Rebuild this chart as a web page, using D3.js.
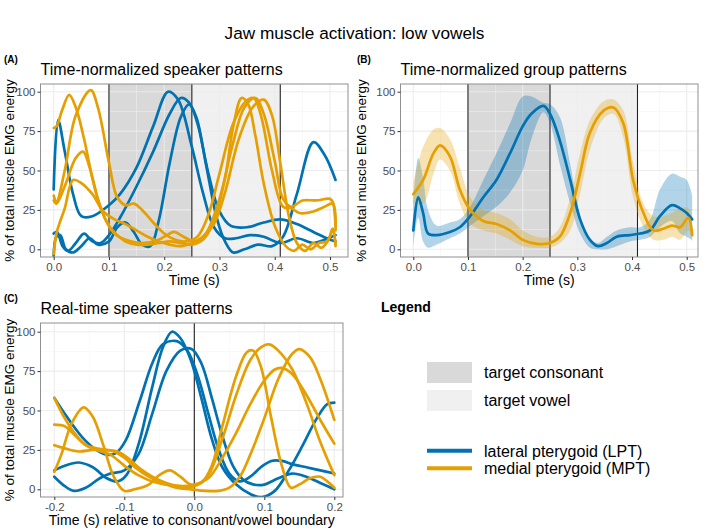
<!DOCTYPE html>
<html><head><meta charset="utf-8">
<script src="https://cdn.jsdelivr.net/npm/d3@7"></script>
<style>body{margin:0;background:#fff}svg{display:block;font-family:"Liberation Sans",Arial,Helvetica,sans-serif}</style>
</head><body><svg id="chart" width="709" height="530"></svg>
<script>
// ---------- DATA ----------
const yTicks = [0, 25, 50, 75, 100];
const yMinor = [12.5, 37.5, 62.5, 87.5];
const xTicksNorm = [0, 0.1, 0.2, 0.3, 0.4, 0.5];
const xMinorNorm = [0.05, 0.15, 0.25, 0.35, 0.45];
const xTicksReal = [-0.2, -0.1, 0, 0.1, 0.2];
const xMinorReal = [-0.15, -0.05, 0.05, 0.15];
const consonantSpan = [0.1, 0.25];
const vowelSpan = [0.25, 0.41];
const boundariesNorm = [0.1, 0.25, 0.41];
const boundariesReal = [0];

// Panel A: time-normalized speaker patterns [time, %]
const speakerLPT_A1 = [[0,38],[0.008,82],[0.02,62],[0.035,35],[0.05,21],[0.07,21],[0.1,28],[0.12,35],[0.15,52],[0.18,78],[0.207,100],[0.225,95],[0.25,65],[0.27,36],[0.29,14],[0.31,7],[0.33,7],[0.355,9],[0.38,8],[0.41,4],[0.44,7],[0.47,4],[0.49,6],[0.51,9]];
const speakerLPT_A2 = [[0,10],[0.006,11],[0.016,2],[0.026,-1],[0.04,4],[0.055,10],[0.07,5],[0.085,4],[0.1,9],[0.12,20],[0.15,40],[0.18,62],[0.21,86],[0.23,96],[0.245,93],[0.26,80],[0.28,48],[0.3,24],[0.32,15],[0.35,14],[0.38,17],[0.41,19],[0.44,16],[0.47,11],[0.5,6],[0.51,5]];
const speakerLPT_A3 = [[0,-4],[0.005,8],[0.012,9],[0.022,0],[0.035,-2],[0.05,2],[0.065,7],[0.08,3],[0.1,5],[0.115,14],[0.13,17],[0.145,11],[0.16,3],[0.175,2],[0.19,18],[0.21,55],[0.23,84],[0.245,92],[0.258,84],[0.275,55],[0.295,20],[0.31,5],[0.325,-2],[0.345,0],[0.37,3],[0.395,2],[0.415,8],[0.44,35],[0.47,68],[0.49,60],[0.51,44]];
const speakerMPT_A1 = [[0,77],[0.005,78],[0.015,88],[0.028,98],[0.04,90],[0.055,70],[0.07,45],[0.085,26],[0.1,15],[0.115,9],[0.13,5],[0.15,3],[0.17,3],[0.19,4],[0.21,5],[0.23,4],[0.25,3],[0.27,6],[0.29,18],[0.31,45],[0.325,78],[0.34,96],[0.352,92],[0.365,72],[0.38,42],[0.4,15],[0.42,2],[0.435,-1],[0.45,3],[0.465,0],[0.48,4],[0.495,5],[0.505,13],[0.51,2]];
const speakerMPT_A2 = [[0,34],[0.005,30],[0.02,50],[0.04,85],[0.067,101],[0.08,90],[0.1,55],[0.115,33],[0.13,28],[0.145,29],[0.16,25],[0.18,17],[0.2,10],[0.22,6],[0.24,5],[0.26,8],[0.28,22],[0.3,48],[0.325,80],[0.348,94],[0.362,96],[0.375,85],[0.395,50],[0.415,27],[0.43,26],[0.445,23],[0.47,24],[0.49,27],[0.505,29],[0.51,12]];
const speakerMPT_A3 = [[0,31],[0.005,29],[0.02,40],[0.04,58],[0.053,62],[0.065,52],[0.08,32],[0.095,18],[0.11,10],[0.13,6],[0.16,4],[0.19,6],[0.205,9],[0.218,11],[0.235,8],[0.255,5],[0.275,10],[0.3,32],[0.325,68],[0.345,90],[0.365,96],[0.38,86],[0.4,56],[0.415,32],[0.43,27],[0.45,31],[0.475,31],[0.5,32],[0.505,30],[0.51,15]];
const speakerMPT_A4 = [[0,-3],[0.005,10],[0.01,16],[0.02,26],[0.035,44],[0.05,42],[0.07,35],[0.09,24],[0.11,19],[0.13,16],[0.15,12],[0.17,8],[0.19,5],[0.21,3],[0.23,2],[0.25,4],[0.27,8],[0.29,16],[0.31,36],[0.335,70],[0.36,90],[0.38,95],[0.395,85],[0.41,55],[0.425,22],[0.44,4],[0.455,-1],[0.47,4],[0.485,1],[0.5,8],[0.505,13],[0.51,3]];

// Panel B: group patterns [time, mean, lower, upper]
const groupLPT = [[0,12,2,30],[0.009,33,20,58],[0.018,23,5,45],[0.027,10,1,25],[0.043,9,3,15],[0.067,11,7,17],[0.085,14,10,19],[0.104,21,15,27],[0.128,33,21,44],[0.152,44,27,61],[0.177,61,36,80],[0.2,78,50,97],[0.216,86,70,97],[0.238,91,87,93],[0.25,86,80,92],[0.268,69,54,84],[0.287,44,29,54],[0.305,19,10,22],[0.323,6,1,7],[0.338,2,0,4],[0.354,4,0,8],[0.372,8,2,12],[0.396,9,5,14],[0.415,10,6,14],[0.433,12,8,19],[0.451,21,14,38],[0.473,28,18,48],[0.488,26,10,46],[0.5,23,8,44],[0.51,19,6,34]];
const groupMPT = [[0,35,29,42],[0.018,44,29,65],[0.037,61,48,76],[0.049,66,57,77],[0.067,59,50,70],[0.085,38,29,52],[0.104,25,16,33],[0.128,18,12,25],[0.152,16,10,23],[0.177,12,6,19],[0.2,6,2,12],[0.226,3.5,1,8],[0.25,4,1,8],[0.268,8,4,14],[0.287,23,12,33],[0.305,48,35,61],[0.323,74,63,82],[0.348,88,83,94],[0.366,90,86,95],[0.384,80,71,88],[0.402,44,33,55],[0.421,23,14,29],[0.439,12,6,21],[0.457,13,6,21],[0.473,15,8,23],[0.488,14,6,26],[0.503,20,12,26],[0.51,9,4,14]];

// Panel C: real-time speaker patterns [time rel. to boundary, %]
const realLPT_1 = [[-0.2,58],[-0.182,46],[-0.16,33],[-0.14,25],[-0.125,22],[-0.112,23],[-0.098,31],[-0.078,56],[-0.06,80],[-0.045,92],[-0.025,94],[-0.01,88],[0.005,72],[0.02,48],[0.035,25],[0.05,10],[0.065,5],[0.08,8],[0.095,14],[0.11,18],[0.125,18],[0.14,16],[0.16,14],[0.18,12],[0.2,10]];
const realLPT_2 = [[-0.2,12],[-0.185,15],[-0.165,17],[-0.145,14],[-0.125,7],[-0.11,5],[-0.097,9],[-0.08,28],[-0.06,65],[-0.045,90],[-0.032,100],[-0.02,96],[-0.005,82],[0.01,58],[0.025,32],[0.04,14],[0.06,3],[0.08,-3],[0.096,-5],[0.115,-1],[0.135,12],[0.155,28],[0.175,45],[0.19,54],[0.2,55]];
const realLPT_3 = [[-0.2,8],[-0.185,2],[-0.172,-1],[-0.155,1],[-0.135,7],[-0.12,10],[-0.1,12],[-0.08,22],[-0.06,48],[-0.04,75],[-0.02,88],[-0.004,89],[0.01,80],[0.025,58],[0.04,34],[0.055,15],[0.07,6],[0.085,3],[0.1,3],[0.12,7],[0.14,10],[0.16,8],[0.18,4],[0.2,0]];
const realMPT_1 = [[-0.2,11],[-0.19,22],[-0.175,42],[-0.158,52],[-0.145,46],[-0.13,28],[-0.115,8],[-0.1,-1],[-0.085,0],[-0.065,3],[-0.05,9],[-0.035,12],[-0.02,8],[-0.005,3],[0.01,4],[0.025,15],[0.04,40],[0.06,72],[0.075,87],[0.084,88],[0.095,78],[0.11,45],[0.125,15],[0.138,1],[0.15,3],[0.165,7],[0.18,8],[0.19,5],[0.2,1]];
const realMPT_2 = [[-0.2,58],[-0.185,45],[-0.17,35],[-0.155,28],[-0.14,25],[-0.12,22],[-0.1,15],[-0.08,9],[-0.06,5],[-0.04,3],[-0.02,2],[0,2],[0.02,9],[0.04,32],[0.06,60],[0.08,82],[0.095,90],[0.107,92],[0.12,88],[0.14,76],[0.16,55],[0.18,30],[0.2,9]];
const realMPT_3 = [[-0.2,41],[-0.185,40],[-0.17,34],[-0.155,28],[-0.14,26],[-0.125,25],[-0.11,24],[-0.095,20],[-0.08,14],[-0.06,8],[-0.04,4],[-0.02,2],[0,3],[0.02,7],[0.04,20],[0.06,36],[0.08,54],[0.1,69],[0.115,76],[0.125,77],[0.14,73],[0.16,60],[0.18,44],[0.2,29]];
const realMPT_4 = [[-0.2,28],[-0.185,26],[-0.165,24],[-0.145,25],[-0.13,25],[-0.115,24],[-0.1,20],[-0.085,14],[-0.065,8],[-0.045,4],[-0.025,1],[-0.005,0],[0.015,-1],[0.035,-1],[0.05,1],[0.065,8],[0.08,22],[0.1,45],[0.12,70],[0.14,86],[0.15,89],[0.165,84],[0.18,70],[0.2,44]];

const muscleLabels = ["lateral pterygoid (LPT)", "medial pterygoid (MPT)"];
const phaseLabels = ["target consonant", "target vowel"];

// ---------- STYLE ----------
const COL_LPT = "#0072B2", COL_MPT = "#E69F00";
const FILL_CONS = "#d9d9d9", FILL_VOW = "#f0f0f0";
const svg = d3.select("#chart");
const font = '"Liberation Sans",Arial,Helvetica,sans-serif';

svg.append("text").attr("x", 354.5).attr("y", 39).attr("text-anchor", "middle")
  .attr("font-size", 17.2).attr("fill", "#000").text("Jaw muscle activation: low vowels");

let clipN = 0;
function panel(cfg) {
  const {frame, x, y, xTicks, xMinor, fmt} = cfg;
  const g = svg.append("g");
  const id = "clip" + (clipN++);
  svg.append("clipPath").attr("id", id).append("rect")
    .attr("x", frame.l).attr("y", frame.t).attr("width", frame.r - frame.l).attr("height", frame.b - frame.t);
  const inner = g.append("g").attr("clip-path", `url(#${id})`);
  inner.append("rect").attr("x", frame.l).attr("y", frame.t).attr("width", frame.r - frame.l).attr("height", frame.b - frame.t).attr("fill", "#fff");
  (cfg.spans || []).forEach(s => {
    inner.append("rect").attr("x", x(s.span[0])).attr("width", x(s.span[1]) - x(s.span[0]))
      .attr("y", frame.t).attr("height", frame.b - frame.t).attr("fill", s.fill);
  });
  // grid
  inner.selectAll(null).data(yMinor).join("line").attr("x1", frame.l).attr("x2", frame.r)
    .attr("y1", d => y(d)).attr("y2", d => y(d)).attr("stroke", "#f4f4f4").attr("stroke-width", 0.6).attr("opacity", 0.9);
  inner.selectAll(null).data(xMinor).join("line").attr("y1", frame.t).attr("y2", frame.b)
    .attr("x1", d => x(d)).attr("x2", d => x(d)).attr("stroke", "#f4f4f4").attr("stroke-width", 0.6).attr("opacity", 0.9);
  inner.selectAll(null).data(yTicks).join("line").attr("x1", frame.l).attr("x2", frame.r)
    .attr("y1", d => y(d)).attr("y2", d => y(d)).attr("stroke", "#ebebeb").attr("stroke-width", 1.1).attr("opacity", 0.9);
  inner.selectAll(null).data(xTicks).join("line").attr("y1", frame.t).attr("y2", frame.b)
    .attr("x1", d => x(d)).attr("x2", d => x(d)).attr("stroke", "#ebebeb").attr("stroke-width", 1.1).attr("opacity", 0.9);
  // boundaries
  inner.selectAll(null).data(cfg.vlines).join("line").attr("y1", frame.t).attr("y2", frame.b)
    .attr("x1", d => x(d)).attr("x2", d => x(d)).attr("stroke", "#222").attr("stroke-width", 1.1);
  // ribbons
  (cfg.ribbons || []).forEach(r => {
    const area = d3.area().x(d => x(d[0])).y0(d => y(d[2])).y1(d => y(d[3])).curve(d3.curveCatmullRom.alpha(0.5));
    inner.append("path").attr("d", area(r.data)).attr("fill", r.color).attr("opacity", 0.3);
  });
  const line = d3.line().x(d => x(d[0])).y(d => y(d[1])).curve(d3.curveCatmullRom.alpha(0.5));
  (cfg.lines || []).forEach(l => {
    inner.append("path").attr("d", line(l.data)).attr("fill", "none").attr("stroke", l.color)
      .attr("stroke-width", 2.7).attr("stroke-linecap", "round").attr("stroke-linejoin", "round");
  });
  // border
  g.append("rect").attr("x", frame.l).attr("y", frame.t).attr("width", frame.r - frame.l).attr("height", frame.b - frame.t)
    .attr("fill", "none").attr("stroke", "#8f8f8f").attr("stroke-width", 1);
  // axes
  const ay = g.append("g").attr("transform", `translate(${frame.l},0)`)
    .call(d3.axisLeft(y).tickValues(yTicks).tickSize(3).tickPadding(2).tickFormat(d3.format("d")));
  const ax = g.append("g").attr("transform", `translate(0,${frame.b})`)
    .call(d3.axisBottom(x).tickValues(xTicks).tickSize(3).tickPadding(3).tickFormat(fmt));
  [ax, ay].forEach(a => {
    a.select(".domain").remove();
    a.selectAll(".tick line").attr("stroke", "#333");
    a.selectAll(".tick text").attr("fill", "#4d4d4d").attr("font-size", 11.5).attr("font-family", font);
  });
  // labels
  g.append("text").attr("x", frame.l).attr("y", frame.t - 9).attr("font-size", 16).attr("fill", "#000").text(cfg.title);
  g.append("text").attr("x", cfg.tagX).attr("y", frame.t - 21).attr("font-size", 10).attr("font-weight", "bold").text(cfg.tag);
  g.append("text").attr("x", (frame.l + frame.r) / 2).attr("y", frame.b + 28).attr("text-anchor", "middle")
    .attr("font-size", 14).attr("fill", "#000").text(cfg.xTitle);
  g.append("text").attr("transform", `translate(${cfg.yTitleX},${(frame.t + frame.b) / 2}) rotate(-90)`)
    .attr("text-anchor", "middle").attr("font-size", 13.5).attr("fill", "#000").text("% of total muscle EMG energy");
}

const fmt1 = d => d.toFixed(1);

// Panel A
const frameA = {l: 40.5, r: 348, t: 84, b: 257};
const xA = d3.scaleLinear().domain([0, 0.5]).range([53.7, 330]);
const yA = d3.scaleLinear().domain([0, 100]).range([249.3, 91.7]);
panel({frame: frameA, x: xA, y: yA, xTicks: xTicksNorm, xMinor: xMinorNorm, fmt: fmt1,
  spans: [{span: consonantSpan, fill: FILL_CONS}, {span: vowelSpan, fill: FILL_VOW}],
  vlines: boundariesNorm, title: "Time-normalized speaker patterns", tag: "(A)", tagX: 4, yTitleX: 13.5, xTitle: "Time (s)",
  lines: [
    {data: speakerLPT_A1, color: COL_LPT}, {data: speakerLPT_A2, color: COL_LPT}, {data: speakerLPT_A3, color: COL_LPT},
    {data: speakerMPT_A1, color: COL_MPT}, {data: speakerMPT_A2, color: COL_MPT}, {data: speakerMPT_A3, color: COL_MPT}, {data: speakerMPT_A4, color: COL_MPT}
  ]});

// Panel B
const frameB = {l: 400.5, r: 698, t: 84, b: 257};
const xB = d3.scaleLinear().domain([0, 0.5]).range([413.3, 686.7]);
panel({frame: frameB, x: xB, y: yA, xTicks: xTicksNorm, xMinor: xMinorNorm, fmt: fmt1,
  spans: [{span: consonantSpan, fill: FILL_CONS}, {span: vowelSpan, fill: FILL_VOW}],
  vlines: boundariesNorm, title: "Time-normalized group patterns", tag: "(B)", tagX: 357, yTitleX: 366, xTitle: "Time (s)",
  ribbons: [{data: groupLPT, color: COL_LPT}, {data: groupMPT, color: COL_MPT}],
  lines: [{data: groupLPT, color: COL_LPT}, {data: groupMPT, color: COL_MPT}]});

// Panel C
const frameC = {l: 40.5, r: 343, t: 323, b: 497};
const xC = d3.scaleLinear().domain([-0.2, 0.2]).range([54.3, 334.3]);
const yC = d3.scaleLinear().domain([0, 100]).range([489.3, 331.7]);
panel({frame: frameC, x: xC, y: yC, xTicks: xTicksReal, xMinor: xMinorReal, fmt: fmt1,
  vlines: boundariesReal, title: "Real-time speaker patterns", tag: "(C)", tagX: 4, yTitleX: 13.5,
  xTitle: "Time (s) relative to consonant/vowel boundary",
  lines: [
    {data: realLPT_1, color: COL_LPT}, {data: realLPT_2, color: COL_LPT}, {data: realLPT_3, color: COL_LPT},
    {data: realMPT_1, color: COL_MPT}, {data: realMPT_2, color: COL_MPT}, {data: realMPT_3, color: COL_MPT}, {data: realMPT_4, color: COL_MPT}
  ]});

// Legend
const lg = svg.append("g");
lg.append("text").attr("x", 381).attr("y", 312).attr("font-size", 14).attr("font-weight", "bold").text("Legend");
[FILL_CONS, FILL_VOW].forEach((f, i) => {
  lg.append("rect").attr("x", 427).attr("y", 362 + i * 28).attr("width", 45).attr("height", 21).attr("fill", f);
  lg.append("text").attr("x", 484).attr("y", 378 + i * 28).attr("font-size", 16).attr("fill", "#000").text(phaseLabels[i]);
});
[COL_LPT, COL_MPT].forEach((c, i) => {
  const yy = 450.7 + i * 17.6;
  lg.append("line").attr("x1", 427).attr("x2", 472).attr("y1", yy).attr("y2", yy).attr("stroke", c).attr("stroke-width", 4);
  lg.append("text").attr("x", 484).attr("y", yy + 6).attr("font-size", 16).attr("fill", "#000").text(muscleLabels[i]);
});
</script></body></html>
